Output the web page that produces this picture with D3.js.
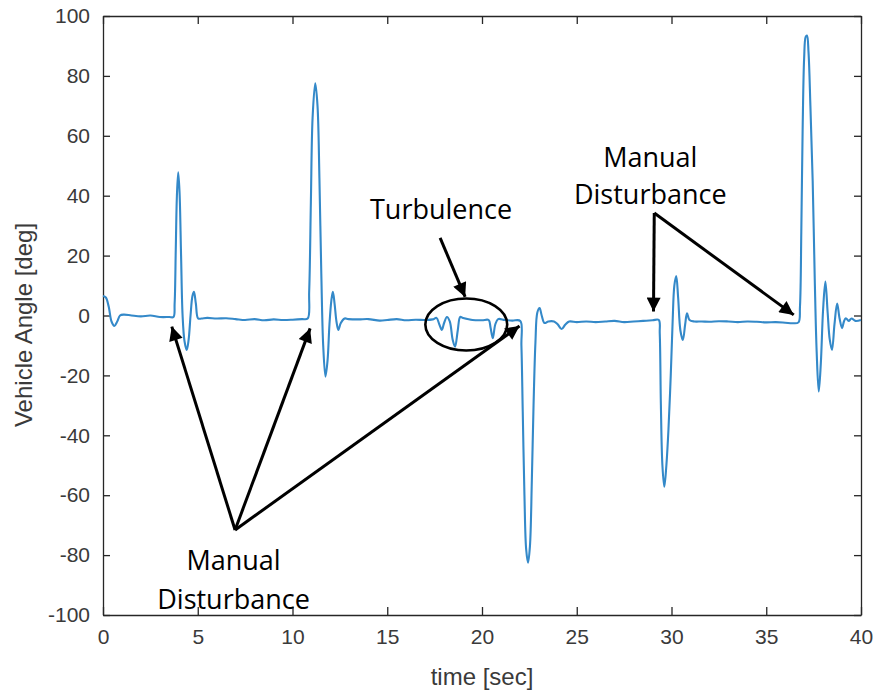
<!DOCTYPE html>
<html>
<head>
<meta charset="utf-8">
<script src="https://cdn.jsdelivr.net/npm/d3@7"></script>
<style>
  body { margin: 0; background: #fff; }
  svg { display: block; }
</style>
</head>
<body>
<div class="container"></div>
<script>
// readings taken off the plot (time in sec, angle in deg)
var timeSec = [
  0, 0.15, 0.3, 0.45, 0.6, 0.75, 0.9, 1.1, 1.5, 2, 2.5, 3, 3.5, 3.72,
  3.78, 3.84, 3.9, 3.97, 4.04, 4.12, 4.2, 4.3, 4.42, 4.52, 4.62, 4.72, 4.8, 4.9, 5.02, 5.2,
  5.5, 6, 6.5, 7, 7.5, 8, 8.5, 9, 9.5, 10, 10.5, 10.8,
  10.88, 10.97, 11.06, 11.2, 11.32, 11.42, 11.52, 11.62, 11.74, 11.85, 11.95, 12.05, 12.13, 12.22, 12.32, 12.42, 12.55, 12.75, 12.95,
  13.5, 14, 14.6, 15, 15.5, 16, 16.5, 17, 17.4, 17.6, 17.75, 17.88, 18.0, 18.15, 18.3, 18.45, 18.58, 18.72, 18.85,
  19, 19.5, 20, 20.35, 20.45, 20.57, 20.7, 20.85, 21.2, 21.6, 22.02,
  22.08, 22.15, 22.24, 22.33, 22.43, 22.53, 22.63, 22.72, 22.82, 22.92, 23.04, 23.15, 23.3, 23.5, 23.8, 24.0, 24.2, 24.4, 24.6,
  25, 25.5, 26, 26.5, 27, 27.5, 28, 28.5, 29, 29.33,
  29.38, 29.44, 29.52, 29.62, 29.73, 29.84, 29.96, 30.06, 30.15, 30.25, 30.35, 30.47, 30.6, 30.72, 30.82, 30.95, 31.2,
  31.6, 32, 32.5, 33, 33.5, 34, 34.5, 35, 35.5, 36, 36.4, 36.7,
  36.78, 36.85, 36.92, 37.0, 37.08, 37.15, 37.23, 37.33, 37.45, 37.56, 37.66, 37.77, 37.88, 38.0, 38.12, 38.24, 38.35, 38.47,
  38.6, 38.74, 38.87, 39.0, 39.1, 39.2, 39.35, 39.5, 39.7, 40
];
var angleDeg = [
  6.5, 6, 3, -2, -3.5, -2, 0, 0.3, 0, -0.3, 0, -0.5, -0.5, -0.5,
  4, 22, 40, 47.8, 41, 20, 0, -8.5, -11.5, -8, 0, 6.5, 7.9, 4, -1, -1,
  -0.8, -1, -0.9, -1.2, -1.5, -1.2, -1.6, -1.3, -1.5, -1.4, -1.2, -1,
  8, 38, 66, 77.5, 70, 46, 14, -10, -20.4, -15, -3, 5, 7.9, 4, -2, -4.8, -2.5, -1, -1.2,
  -1.3, -1.2, -1.7, -1.5, -1.2, -1.6, -1.4, -1.5, -1.3, -0.8, -3, -4.8, -2.5, -0.5, -2, -8, -10.4, -5, -0.5,
  -0.8, -1.5, -1.6, -1.5, -4, -7.6, -3, -1.2, -1.5, -1.7, -1.8,
  -10, -32, -60, -78, -82.5, -77, -55, -30, -9, 1, 2.5, 0, -2.5, -2, -2, -3, -4.5, -3, -2,
  -2.2, -2, -2.2, -2, -1.8, -2.2, -2, -1.8, -1.6, -1.5,
  -6, -30, -50, -57.2, -50, -38, -20, -2, 10, 13.2, 6, -5, -8.2, -3, 0.7, -1.5, -2,
  -2, -2.1, -1.9, -2, -2.2, -2, -2.1, -2.3, -2.2, -2.4, -2.6, -2.3,
  3, 28, 62, 86, 93, 93.5, 88, 70, 45, 12, -12, -25.4, -16, 2, 11.3, 1, -8, -11.5,
  -3, 4, -1, -4.2, -2, -0.9, -1.8, -1, -1.8, -1.5
];

var xTicks = [0, 5, 10, 15, 20, 25, 30, 35, 40];
var yTicks = [-100, -80, -60, -40, -20, 0, 20, 40, 60, 80, 100];

// annotations in data units
var noteLines = [
  {text: ["Manual", "Disturbance"], t: 6.89, v: [-85, -98]},
  {text: ["Turbulence"], t: 17.84, v: [32.1]},
  {text: ["Manual", "Disturbance"], t: 28.88, v: [49.7, 37.2]}
];
var arrows = [
  {from: [6.97, -71.6], to: [3.63, -3.7]},
  {from: [6.97, -71.6], to: [10.93, -4.3]},
  {from: [6.97, -71.6], to: [21.98, -3.5]},
  {from: [17.79, 25.9], to: [19.11, 6.2]},
  {from: [29.09, 34.2], to: [29.05, 1.3]},
  {from: [29.09, 34.2], to: [36.45, 0.2]}
];
var turbRing = {t: 19.17, v: -3.0, rt: 2.16, rv: 8.7};

var width = 881, height = 694;
var margin = {left: 103, right: 20, top: 16, bottom: 79};

var svg = d3.select("div.container").append("svg")
    .attr("width", width)
    .attr("height", height);

var x = d3.scaleLinear().domain([0, 40]).range([margin.left, width - margin.right]);
var y = d3.scaleLinear().domain([-100, 100]).range([height - margin.bottom, margin.top]);

var axisColor = "#262626";
var tickFont = "'Liberation Sans', Arial, sans-serif";
var plain = function(d) { return String(d); };   // hyphen minus like matlab

// box + ticks pointing in, MATLAB style
svg.append("g")
    .attr("transform", "translate(0," + y(-100) + ")")
    .call(d3.axisBottom(x).tickValues(xTicks).tickFormat(plain).tickSizeInner(-8).tickSizeOuter(0).tickPadding(14));
svg.append("g")
    .attr("transform", "translate(0," + y(100) + ")")
    .call(d3.axisTop(x).tickValues(xTicks).tickSizeInner(-8).tickSizeOuter(0).tickFormat(""));
svg.append("g")
    .attr("transform", "translate(" + x(0) + ",0)")
    .call(d3.axisLeft(y).tickValues(yTicks).tickFormat(plain).tickSizeInner(-7).tickSizeOuter(0).tickPadding(13));
svg.append("g")
    .attr("transform", "translate(" + x(40) + ",0)")
    .call(d3.axisRight(y).tickValues(yTicks).tickSizeInner(-7).tickSizeOuter(0).tickFormat(""));

svg.selectAll(".domain, .tick line")
    .attr("stroke", axisColor)
    .attr("stroke-width", 1.3);
svg.selectAll(".tick text")
    .attr("fill", "#3a3a3a")
    .style("font-family", tickFont)
    .style("font-size", "21px");

// the signal
var line = d3.line()
    .x(function(d) { return x(d[0]); })
    .y(function(d) { return y(d[1]); })
    .curve(d3.curveCatmullRom.alpha(0.5));

svg.append("path")
    .datum(timeSec.map(function(t, i) { return [t, angleDeg[i]]; }))
    .attr("fill", "none")
    .attr("stroke", "#3489c9")
    .attr("stroke-width", 2.1)
    .attr("stroke-linejoin", "round")
    .attr("d", line);

// axis labels
svg.append("text")
    .attr("x", (x(0) + x(40)) / 2)
    .attr("y", 685)
    .attr("text-anchor", "middle")
    .attr("fill", "#3a3a3a")
    .style("font-family", tickFont)
    .style("font-size", "24px")
    .text("time [sec]");

svg.append("text")
    .attr("transform", "translate(32,325) rotate(-90)")
    .attr("text-anchor", "middle")
    .attr("fill", "#3a3a3a")
    .style("font-family", tickFont)
    .style("font-size", "24px")
    .text("Vehicle Angle [deg]");

// annotation arrows
var defs = svg.append("defs");
defs.append("marker")
    .attr("id", "head")
    .attr("viewBox", "0 0 10 10")
    .attr("refX", 10)
    .attr("refY", 5)
    .attr("markerUnits", "userSpaceOnUse")
    .attr("markerWidth", 17)
    .attr("markerHeight", 14)
    .attr("orient", "auto")
  .append("path")
    .attr("d", "M0,0 L10,5 L0,10 Z")
    .attr("fill", "#000");

svg.append("g").selectAll("line")
    .data(arrows)
    .enter()
    .append("line")
    .attr("x1", function(d) { return x(d.from[0]); })
    .attr("y1", function(d) { return y(d.from[1]); })
    .attr("x2", function(d) { return x(d.to[0]); })
    .attr("y2", function(d) { return y(d.to[1]); })
    .attr("stroke", "#000")
    .attr("stroke-width", 3)
    .attr("marker-end", "url(#head)");

svg.append("ellipse")
    .attr("cx", x(turbRing.t))
    .attr("cy", y(turbRing.v))
    .attr("rx", x(turbRing.rt) - x(0))
    .attr("ry", y(0) - y(turbRing.rv))
    .attr("fill", "none")
    .attr("stroke", "#000")
    .attr("stroke-width", 2.6);

noteLines.forEach(function(n) {
  n.text.forEach(function(s, i) {
    svg.append("text")
        .attr("x", x(n.t))
        .attr("y", y(n.v[i]))
        .attr("text-anchor", "middle")
        .attr("fill", "#000")
        .style("font-family", "'Open Sans', sans-serif")
        .style("font-size", "27px")
        .text(s);
  });
});
</script>
</body>
</html>
